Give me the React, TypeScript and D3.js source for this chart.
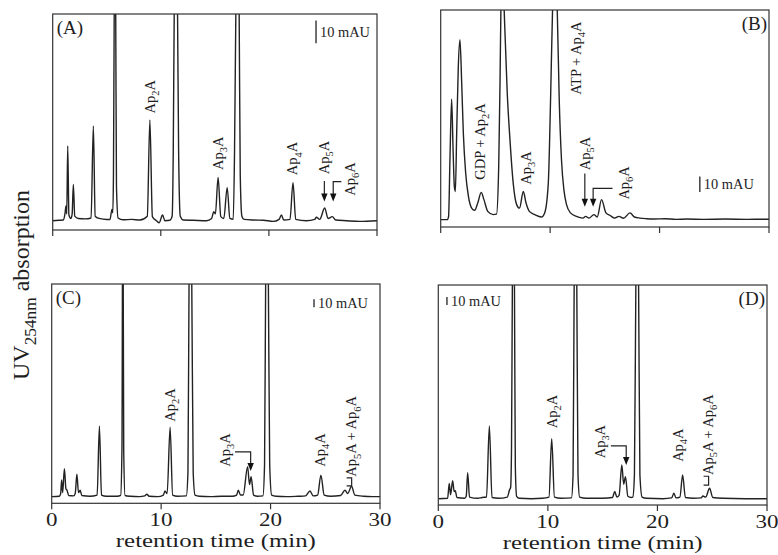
import React from 'react';
import * as d3 from 'd3';

type Pt = [number, number];

// retention time (min) vs UV absorbance (mAU)
const traceA: Pt[] = [
  [0, 0], [0.6, 0.2], [0.98, 0.3], [1.14, 3.2], [1.23, 6.5], [1.3, 3], [1.39, 33], [1.5, 2.5], [1.69, 1], [1.8, 3],
  [1.91, 16], [2.04, 2], [2.37, 1], [3.0, 0.8], [3.55, 1.2], [3.76, 41.8], [3.93, 2], [4.3, 1], [5.0, 0.5], [5.3, 0.5],
  [5.48, 5], [5.56, 3.5], [5.62, 20], [5.69, 91], [5.76, 130], [5.83, 91], [5.9, 15], [6.05, 1.2], [6.5, 0.4],
  [7.3, 0.6], [8.07, 0.3], [8.75, 2], [8.99, 44.4], [9.22, 1.8], [9.6, 0], [9.85, -0.9], [10.16, 2.5], [10.38, 0],
  [10.84, 0.2], [11.05, 2], [11.15, 30], [11.24, 91], [11.4, 140], [11.55, 91], [11.65, 30], [11.8, 2], [12.1, 0.3],
  [13, 0.2], [14.23, 0], [14.7, 1], [14.9, 4], [15.05, 3], [15.3, 19.1], [15.55, 1.8], [15.83, 1], [16.14, 14.6],
  [16.39, 1], [16.7, 0.6], [16.82, 30], [16.94, 91], [17.1, 140], [17.25, 91], [17.35, 20], [17.5, 2], [17.7, 0.6],
  [18.54, 0.3], [19.5, 0.2], [20.4, -0.3], [20.94, 0.6], [21.16, 2.5], [21.37, 0.3], [21.95, 0.6], [22.23, 16.8],
  [22.48, 0.6], [23.47, 0], [24.24, 0.6], [24.39, 1.5], [24.7, 0.6], [25.16, 5.6], [25.47, 1], [25.87, 1.8],
  [26.18, 0.3], [27.16, 0], [28.4, -0.3], [30, 0],
];

const traceB: Pt[] = [
  [0, 0], [0.6, 0], [0.72, 2], [0.85, 40], [1.0, 77], [1.13, 45], [1.25, 21], [1.34, 18], [1.46, 55], [1.61, 98],
  [1.76, 115], [1.92, 87], [2.07, 55], [2.28, 30], [2.53, 15], [2.83, 7.4], [3.1, 6], [3.4, 11], [3.7, 17.4],
  [3.95, 12.8], [4.3, 5.3], [4.8, 3.2], [5.1, 3.5], [5.3, 34], [5.42, 87], [5.5, 134], [5.65, 165], [5.8, 134],
  [6.08, 81], [6.33, 51], [6.63, 23], [6.94, 9.6], [7.2, 7.4], [7.55, 18], [7.8, 10.6], [8.1, 5.3], [8.6, 3.2],
  [9.2, 1.7], [9.5, 4.3], [9.83, 23], [10.04, 77], [10.22, 134], [10.43, 165], [10.65, 134], [10.83, 77],
  [11.04, 38], [11.26, 19], [11.5, 9.6], [11.86, 4.3], [12.4, 2.1], [13.0, 1], [13.25, 2.1], [13.55, 1], [14.0, 3.2],
  [14.3, 1.7], [14.7, 12.8], [15.1, 4.3], [15.5, 2.6], [15.9, 1], [16.3, 2.1], [16.7, 0.9], [17.3, 4.3], [17.7, 1.7],
  [18.2, 1], [18.8, 0.6], [19.5, 0.4], [20.5, 0.6], [21.5, 0.2], [22.5, 0.4], [24, 0.2], [26, 0.4], [28, 0.2], [30, 0.3],
];

const traceC: Pt[] = [
  [0, 0], [0.7, 0.5], [0.82, 4], [0.91, 21], [1.0, 5], [1.16, 35], [1.3, 10], [1.4, 8], [1.55, 1.5], [2.0, 1],
  [2.15, 4], [2.3, 28], [2.45, 5], [2.6, 8], [2.75, 1.5], [3.5, 0.5], [4.15, 2], [4.36, 88], [4.55, 2], [5.0, 0.5],
  [6.0, 0.5], [6.3, 1.5], [6.42, 60], [6.5, 420], [6.58, 60], [6.7, 1.5], [7.2, 0.5], [8.0, 0], [8.5, 1], [8.7, 3],
  [8.9, 0.5], [9.7, 0], [10.2, 2], [10.35, 7], [10.55, 4], [10.82, 87], [11.05, 2], [11.5, 0.5], [12.3, 1],
  [12.45, 30], [12.55, 266], [12.68, 420], [12.8, 266], [12.93, 30], [13.1, 2], [13.5, 0.5], [14.5, 0], [15.5, 0.5],
  [16.5, 0.5], [16.9, 2], [17.05, 8], [17.25, 2], [17.5, 2], [17.9, 37.5], [18.08, 15], [18.22, 25], [18.45, 2],
  [18.8, 0.5], [19.3, 1], [19.45, 40], [19.55, 266], [19.68, 400], [19.8, 266], [19.92, 40], [20.1, 2], [20.5, 0.5],
  [21.5, 0], [22.5, 0.5], [23.2, 1], [23.6, 7], [23.9, 1], [24.3, 2], [24.6, 27], [24.9, 2], [25.5, 0.5], [26.4, 1.5],
  [26.8, 8], [27.05, 4], [27.4, 13], [27.7, 2], [28.5, 0.5], [29.3, 0], [30, 0],
];

const traceD: Pt[] = [
  [0, 0], [0.85, 0.5], [1.0, 19], [1.12, 5], [1.31, 22.5], [1.45, 9], [1.55, 10], [1.7, 1.5], [2.4, 0.5], [2.55, 3],
  [2.68, 32.5], [2.85, 2], [3.6, 0.5], [4.0, 1.5], [4.4, 2], [4.66, 91], [4.9, 1.5], [5.5, 0.5], [6.3, 2], [6.5, 11],
  [6.6, 14], [6.68, 60], [6.76, 267], [6.85, 400], [6.95, 267], [7.03, 40], [7.15, 3], [7.4, 0.5], [8.5, 0],
  [9.5, 0.5], [10.1, 2], [10.35, 75], [10.6, 2], [11.2, 0.5], [12.15, 1], [12.3, 30], [12.4, 267], [12.52, 420],
  [12.64, 267], [12.75, 30], [12.9, 2], [13.5, 0.5], [15, 0.5], [15.9, 1.5], [16.1, 9], [16.3, 2], [16.5, 4],
  [16.75, 42], [16.92, 18], [17.08, 27.5], [17.3, 3], [17.6, 1.5], [17.75, 2], [17.9, 30], [18.03, 267],
  [18.15, 420], [18.28, 267], [18.4, 30], [18.6, 2], [19, 0.5], [20.5, 0], [21.3, 1], [21.5, 6.7], [21.7, 1],
  [22.05, 2], [22.3, 29.6], [22.55, 1.5], [23.3, 0.5], [24.0, 1], [24.15, 3.3], [24.4, 2], [24.76, 13], [25.05, 1.5],
  [26, 0.5], [28, 0], [30, 0],
];

// peak labels: text ("_{..}" = subscript), position of the label's start (t, mAU)
type Label = { text: string; t: number; v: number };
const labelsA: Label[] = [
  { text: 'Ap_{2}A', t: 8.99, v: 47.3 },
  { text: 'Ap_{3}A', t: 15.3, v: 22.4 },
  { text: 'Ap_{4}A', t: 22.2, v: 20.1 },
  { text: 'Ap_{5}A', t: 25.13, v: 20.5 },
  { text: 'Ap_{6}A', t: 27.5, v: 11 },
];
const labelsB: Label[] = [
  { text: 'GDP + Ap_{2}A', t: 3.59, v: 25.5 },
  { text: 'Ap_{3}A', t: 7.85, v: 22.3 },
  { text: 'ATP + Ap_{4}A', t: 12.41, v: 79.8 },
  { text: 'Ap_{5}A', t: 13.17, v: 31.6 },
  { text: 'Ap_{6}A', t: 16.8, v: 12.8 },
];
const labelsC: Label[] = [
  { text: 'Ap_{2}A', t: 10.81, v: 93.8 },
  { text: 'Ap_{3}A', t: 15.84, v: 37.5 },
  { text: 'Ap_{4}A', t: 24.52, v: 37.5 },
  { text: 'Ap_{5}A + Ap_{6}A', t: 27.41, v: 25 },
];
const labelsD: Label[] = [
  { text: 'Ap_{2}A', t: 10.36, v: 88 },
  { text: 'Ap_{3}A', t: 14.77, v: 50.4 },
  { text: 'Ap_{4}A', t: 21.93, v: 46 },
  { text: 'Ap_{5}A + Ap_{6}A', t: 24.67, v: 29.6 },
];

// arrows: shaft at t from v0 down to tip v1, optional hook going sideways to hookT
type Arrow = { t: number; v0: number; v1: number; hookT?: number };
const arrowsA: Arrow[] = [
  { t: 25.13, v0: 17.5, v1: 8.5 },
  { t: 25.95, v0: 17.2, v1: 8.5, hookT: 26.7 },
];
const arrowsB: Arrow[] = [
  { t: 13.17, v0: 29.5, v1: 8.3 },
  { t: 13.93, v0: 20, v1: 8.3, hookT: 15.7 },
];
const arrowsC: Arrow[] = [{ t: 18.18, v0: 56, v1: 32, hookT: 16.75 }];
const arrowsD: Arrow[] = [{ t: 17.15, v0: 66, v1: 42, hookT: 15.75 }];

type Bracket = { t: number; v0: number; v1: number };
const bracketsC: Bracket[] = [{ t: 27.41, v0: 23.5, v1: 13.5 }];
const bracketsD: Bracket[] = [{ t: 24.67, v0: 28, v1: 17 }];

// 10 mAU scale bar (t, bottom in mAU)
const scaleBars: Pt[] = [[24.36, 78.3], [23.68, 17.6], [23.97, 237], [0.79, 242]];
const scaleText = '10 mAU';

const panelNames = ['(A)', '(B)', '(C)', '(D)'];
const xTicks = [0, 10, 20, 30];
const xTickLabels = ['0', '10', '20', '30'];
const xTitle = 'retention time (min)';
const yTitle = 'UV_{254nm} absorption';

const FONT = 'Liberation Serif, Times New Roman, serif';
const INK = '#1e1e1e';

const layout = [
  { trace: traceA, labels: labelsA, arrows: arrowsA, brackets: [] as Bracket[], left: 52.7, right: 377, top: 14, bottom: 230, yDom: [-4.1, 91.2], nameLeft: true, tickLabels: false },
  { trace: traceB, labels: labelsB, arrows: arrowsB, brackets: [] as Bracket[], left: 440.7, right: 769, top: 10, bottom: 227, yDom: [-4.7, 134], nameLeft: false, tickLabels: false },
  { trace: traceC, labels: labelsC, arrows: arrowsC, brackets: bracketsC, left: 51.7, right: 380, top: 284, bottom: 503.3, yDom: [-8.3, 266], nameLeft: true, tickLabels: true },
  { trace: traceD, labels: labelsD, arrows: arrowsD, brackets: bracketsD, left: 438.3, right: 767, top: 285, bottom: 505, yDom: [-7.9, 267], nameLeft: false, tickLabels: true },
];

const rich = (s: string, fs: number) => {
  const parts = s.split(/(_\{[^}]*\})/).filter(p => p.length);
  let down = false;
  return parts.map((p, i) => {
    if (p.startsWith('_{')) {
      down = true;
      return <tspan key={i} fontSize={fs * 0.72} dy={fs * 0.28}>{p.slice(2, -1)}</tspan>;
    }
    const dy = down ? -fs * 0.28 : 0;
    down = false;
    return <tspan key={i} dy={dy}>{p}</tspan>;
  });
};

const Panel: React.FC<{ idx: number }> = ({ idx }) => {
  const p = layout[idx];
  const x = d3.scaleLinear().domain([0, 30]).range([p.left, p.right]);
  const y = d3.scaleLinear().domain(p.yDom).range([p.bottom, p.top]);
  const line = d3.line<Pt>().x(d => x(d[0])).y(d => y(d[1])).curve(d3.curveMonotoneX);
  const clipId = `clip${idx}`;
  const fsL = 14.5;
  const [sbT, sbV] = scaleBars[idx];
  const sbX = x(sbT);
  const sbY0 = y(sbV);
  const sbY1 = y(sbV + 10);
  const w = p.right - p.left;

  return (
    <g>
      <defs>
        <clipPath id={clipId}>
          <rect x={p.left} y={p.top} width={w} height={p.bottom - p.top} />
        </clipPath>
      </defs>
      <path d={line(p.trace) || ''} fill="none" stroke="#222" strokeWidth={1.4} clipPath={`url(#${clipId})`} />
      <rect x={p.left} y={p.top} width={w} height={p.bottom - p.top} fill="none" stroke="#333" strokeWidth={1.2} />
      {xTicks.map(t => (
        <line key={t} x1={x(t)} x2={x(t)} y1={p.bottom} y2={p.bottom + 6} stroke="#333" strokeWidth={1.2} />
      ))}
      {p.tickLabels && xTicks.map((t, i) => (
        <text key={'l' + t} x={x(t)} y={p.bottom + 22.5} textAnchor="middle" fontSize={18.5} fontFamily={FONT} fill={INK}
          textLength={xTickLabels[i].length * 11.5} lengthAdjust="spacingAndGlyphs">
          {xTickLabels[i]}
        </text>
      ))}
      {p.tickLabels && (
        <text x={(p.left + p.right) / 2} y={p.bottom + 43.5} textAnchor="middle" fontSize={19.5} fontFamily={FONT} fill={INK}
          textLength={200} lengthAdjust="spacingAndGlyphs">
          {xTitle}
        </text>
      )}
      <text x={p.nameLeft ? p.left + 4 : p.right - 2} y={p.top + 19.5} textAnchor={p.nameLeft ? 'start' : 'end'}
        fontSize={19} fontFamily={FONT} fill={INK}>
        {panelNames[idx]}
      </text>
      <line x1={sbX} x2={sbX} y1={sbY0} y2={sbY1} stroke="#222" strokeWidth={1.3} />
      <text x={sbX + 4} y={(sbY0 + sbY1) / 2 + 5} fontSize={14} fontFamily={FONT} fill={INK}
        textLength={50} lengthAdjust="spacingAndGlyphs">{scaleText}</text>
      {p.labels.map((l, i) => (
        <text key={'t' + i} transform={`translate(${x(l.t) + fsL * 0.33},${y(l.v)}) rotate(-90)`}
          fontSize={fsL} fontFamily={FONT} fill={INK}>
          {rich(l.text, fsL)}
        </text>
      ))}
      {p.arrows.map((a, i) => {
        const ax = x(a.t);
        const top = y(a.v0);
        const tip = y(a.v1);
        const d = a.hookT !== undefined
          ? `M${x(a.hookT)},${top}H${ax}V${tip - 6}`
          : `M${ax},${top}V${tip - 6}`;
        return (
          <g key={'a' + i}>
            <path d={d} fill="none" stroke="#222" strokeWidth={1.2} />
            <path d={`M${ax - 3.2},${tip - 8}L${ax + 3.2},${tip - 8}L${ax},${tip}Z`} fill="#111" />
          </g>
        );
      })}
      {p.brackets.map((b, i) => {
        const bx = x(b.t);
        return (
          <path key={'b' + i} d={`M${bx - 5},${y(b.v0)}H${bx}V${y(b.v1)}H${bx - 5}`} fill="none" stroke="#222" strokeWidth={1.2} />
        );
      })}
    </g>
  );
};

const App: React.FC = () => {
  const fsY = 24;
  return (
    <svg width={778} height={555} style={{ position: 'absolute', left: 0, top: 0, background: 'white' }}>
      {layout.map((_, i) => <Panel key={i} idx={i} />)}
      <text transform={`translate(29,285) rotate(-90)`} textAnchor="middle" fontSize={fsY} fontFamily={FONT} fill={INK}>
        {rich(yTitle, fsY)}
      </text>
    </svg>
  );
};

export default App;
